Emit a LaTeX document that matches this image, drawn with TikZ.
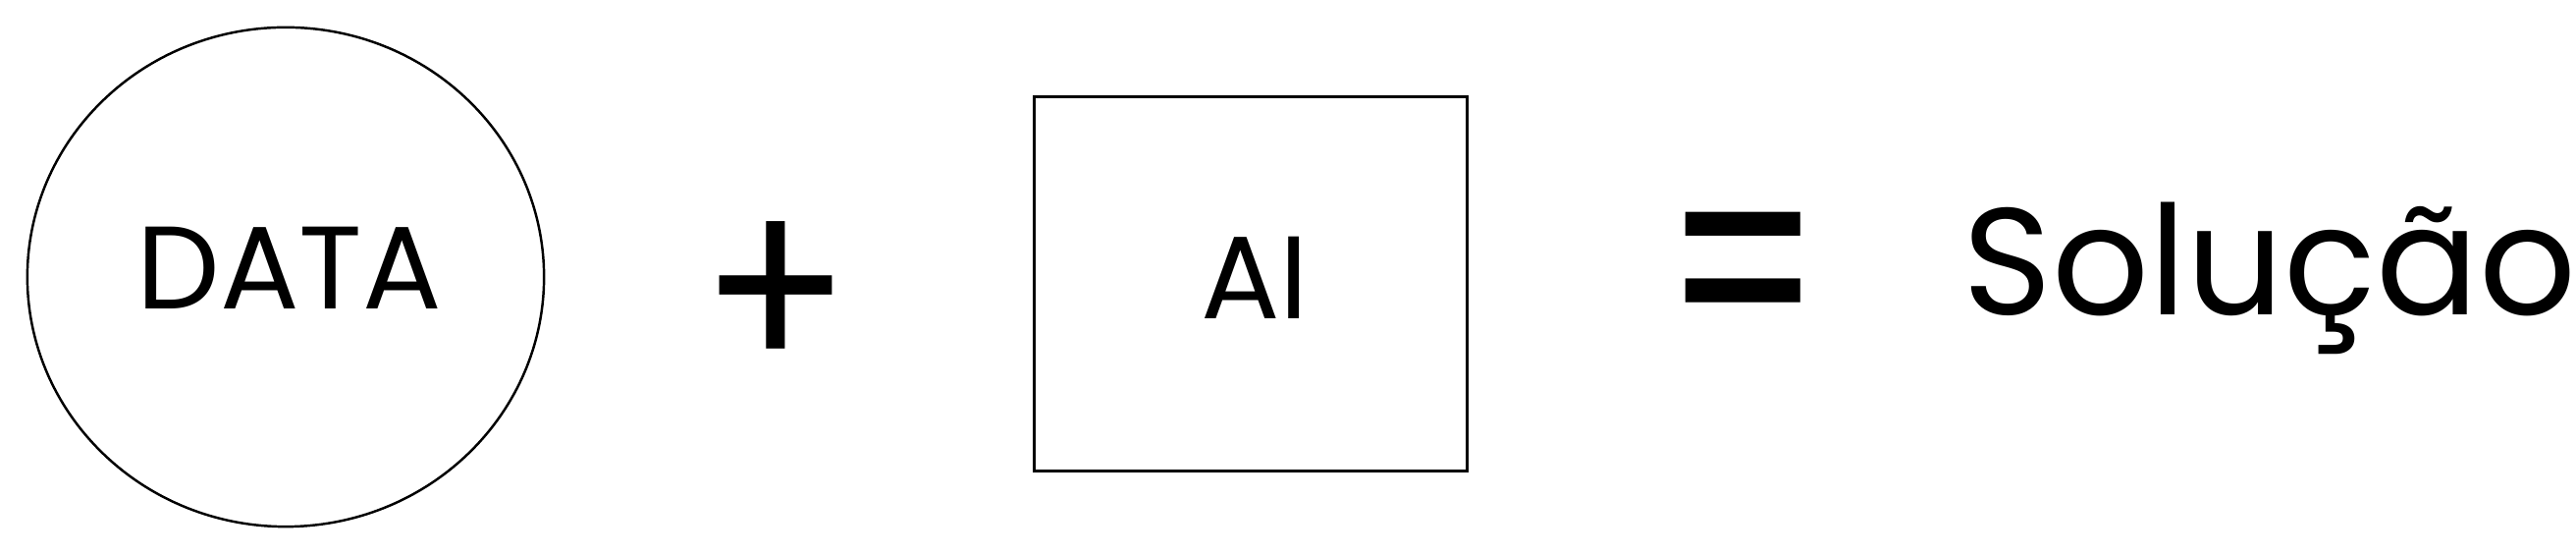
\documentclass[tikz,border=0pt]{standalone}
\usepackage{fontspec}
\setmainfont{Poppins}
\usetikzlibrary{shapes.geometric}
\tikzset{
  shapeline/.style={draw=black, line width=0.7pt},
  label/.style={inner sep=0pt, outer sep=0pt, text=black},
}
\begin{document}
\begin{tikzpicture}[x=0.01cm, y=-0.01cm]
\useasboundingbox (0,0) rectangle (2624,565);
\node[shapeline, ellipse, minimum width=5.26cm, minimum height=5.08cm, inner sep=0pt] (circ) at (291,282) {};
\node[label, font=\fontsize{34}{40}\selectfont] (data) at (295,273) {DATA};
\node[label, font=\fontsize{64}{70}\selectfont, yscale=1.13, transform shape] (plus) at (790,305) {+};
\node[shapeline, rectangle, minimum width=4.41cm, minimum height=3.81cm, inner sep=0pt] (box) at (1274,289) {};
\node[label, font=\fontsize{34}{40}\selectfont] (ai) at (1278,283) {AI};
\node[label, font=\fontsize{64}{70}\selectfont, yscale=1.4, transform shape] (eq) at (1776,297) {=};
\node[label, font=\fontsize{44}{50}\selectfont, anchor=base] (sol) at (2312,321) {Solução};
\end{tikzpicture}
\end{document}
